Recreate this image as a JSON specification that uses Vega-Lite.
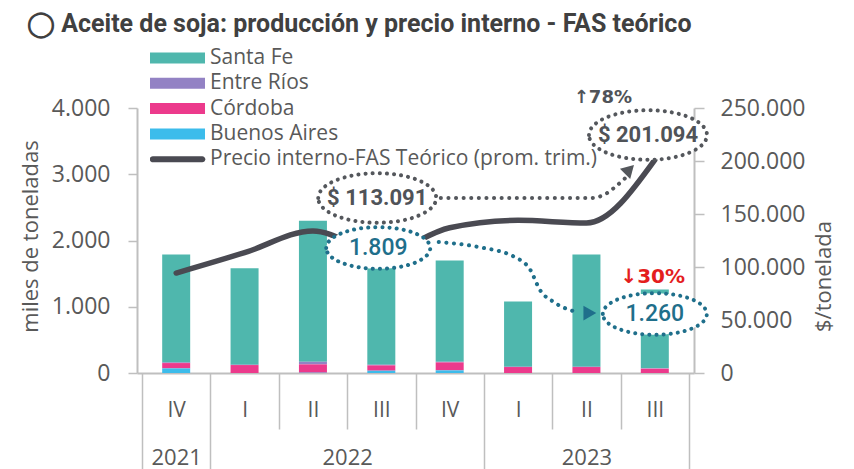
{
  "$schema": "https://vega.github.io/schema/vega-lite/v6.json",
  "width": 557,
  "height": 265,
  "autosize": {"type": "none"},
  "padding": {"left": 137, "top": 108, "right": 160, "bottom": 96},
  "background": "white",
  "config": {
    "locale": {"number": {"decimal": ",", "thousands": ".", "grouping": [3], "currency": ["$", ""]}},
    "view": {"stroke": null},
    "font": "Open Sans"
  },
  "title": {
    "text": "◯ Aceite de soja: producción y precio interno - FAS teórico",
    "anchor": "start",
    "frame": "group",
    "dx": -110,
    "offset": -9,
    "baseline": "alphabetic",
    "font": "Roboto",
    "fontSize": 25,
    "fontWeight": "bold",
    "color": "#404040"
  },
  "datasets": {
    "produccion": [
      {"n": 0, "periodo": "IV 2021", "provincia": "Santa Fe", "valor": 1630},
      {"n": 0, "periodo": "IV 2021", "provincia": "Entre Ríos", "valor": 10},
      {"n": 0, "periodo": "IV 2021", "provincia": "Córdoba", "valor": 80},
      {"n": 0, "periodo": "IV 2021", "provincia": "Buenos Aires", "valor": 70},
      {"n": 1, "periodo": "I 2022", "provincia": "Santa Fe", "valor": 1455},
      {"n": 1, "periodo": "I 2022", "provincia": "Entre Ríos", "valor": 5},
      {"n": 1, "periodo": "I 2022", "provincia": "Córdoba", "valor": 120},
      {"n": 1, "periodo": "I 2022", "provincia": "Buenos Aires", "valor": 0},
      {"n": 2, "periodo": "II 2022", "provincia": "Santa Fe", "valor": 2130},
      {"n": 2, "periodo": "II 2022", "provincia": "Entre Ríos", "valor": 40},
      {"n": 2, "periodo": "II 2022", "provincia": "Córdoba", "valor": 125},
      {"n": 2, "periodo": "II 2022", "provincia": "Buenos Aires", "valor": 5},
      {"n": 3, "periodo": "III 2022", "provincia": "Santa Fe", "valor": 1684},
      {"n": 3, "periodo": "III 2022", "provincia": "Entre Ríos", "valor": 10},
      {"n": 3, "periodo": "III 2022", "provincia": "Córdoba", "valor": 80},
      {"n": 3, "periodo": "III 2022", "provincia": "Buenos Aires", "valor": 35},
      {"n": 4, "periodo": "IV 2022", "provincia": "Santa Fe", "valor": 1530},
      {"n": 4, "periodo": "IV 2022", "provincia": "Entre Ríos", "valor": 10},
      {"n": 4, "periodo": "IV 2022", "provincia": "Córdoba", "valor": 120},
      {"n": 4, "periodo": "IV 2022", "provincia": "Buenos Aires", "valor": 40},
      {"n": 5, "periodo": "I 2023", "provincia": "Santa Fe", "valor": 985},
      {"n": 5, "periodo": "I 2023", "provincia": "Entre Ríos", "valor": 5},
      {"n": 5, "periodo": "I 2023", "provincia": "Córdoba", "valor": 90},
      {"n": 5, "periodo": "I 2023", "provincia": "Buenos Aires", "valor": 0},
      {"n": 6, "periodo": "II 2023", "provincia": "Santa Fe", "valor": 1695},
      {"n": 6, "periodo": "II 2023", "provincia": "Entre Ríos", "valor": 5},
      {"n": 6, "periodo": "II 2023", "provincia": "Córdoba", "valor": 90},
      {"n": 6, "periodo": "II 2023", "provincia": "Buenos Aires", "valor": 0},
      {"n": 7, "periodo": "III 2023", "provincia": "Santa Fe", "valor": 1190},
      {"n": 7, "periodo": "III 2023", "provincia": "Entre Ríos", "valor": 5},
      {"n": 7, "periodo": "III 2023", "provincia": "Córdoba", "valor": 65},
      {"n": 7, "periodo": "III 2023", "provincia": "Buenos Aires", "valor": 0}
    ],
    "precio": [
      {"n": 0, "periodo": "IV 2021", "valor": 94300},
      {"n": 1, "periodo": "I 2022", "valor": 113500},
      {"n": 2, "periodo": "II 2022", "valor": 134000},
      {"n": 3, "periodo": "III 2022", "valor": 113091},
      {"n": 4, "periodo": "IV 2022", "valor": 137000},
      {"n": 5, "periodo": "I 2023", "valor": 144000},
      {"n": 6, "periodo": "II 2023", "valor": 141500},
      {"n": 7, "periodo": "III 2023", "valor": 201094}
    ],
    "anot_precio": [
      {"n": 2.94, "valor": 165100, "etiqueta": "$ 113.091"},
      {"n": 6.9, "valor": 224500, "etiqueta": "$ 201.094"}
    ],
    "flecha_precio": [
      {"n": 3.87, "valor": 165100},
      {"n": 4.99, "valor": 165100},
      {"n": 6.07, "valor": 165100},
      {"n": 6.28, "valor": 168900},
      {"n": 6.42, "valor": 175500},
      {"n": 6.57, "valor": 184000}
    ],
    "punta_precio": [{"n": 6.63, "valor": 192000}],
    "var_precio": [{"n": 6.24, "valor": 259400, "etiqueta": "↑78%"}],
    "anot_vol": [
      {"n": 2.955, "valor": 1887, "etiqueta": "1.809"},
      {"n": 7.0, "valor": 891, "etiqueta": "1.260"}
    ],
    "flecha_vol": [
      {"n": 3.84, "valor": 1977},
      {"n": 4.42, "valor": 1902},
      {"n": 4.95, "valor": 1751},
      {"n": 5.18, "valor": 1555},
      {"n": 5.32, "valor": 1253},
      {"n": 5.52, "valor": 1072},
      {"n": 5.85, "valor": 921}
    ],
    "punta_vol": [{"n": 6.05, "valor": 905}],
    "var_vol": [{"n": 6.97, "valor": 1449, "etiqueta": "↓30%"}]
  },
  "layer": [
    {
      "data": {"name": "produccion"},
      "mark": {"type": "bar", "width": 28},
      "encoding": {
        "x": {
          "field": "n", "type": "quantitative",
          "scale": {"domain": [-0.5, 7.5], "nice": false, "zero": false},
          "axis": {
            "orient": "bottom",
            "title": null,
            "values": [0, 1, 1.5, 2, 2.5, 3, 3.5, 4, 5, 5.5, 6, 6.5, 7],
            "labelExpr": "datum.value % 1 === 0 ? ['IV','I','II','III','IV','I','II','III'][datum.value] : ''",
            "tickSize": 56,
            "tickOpacity": {"condition": {"test": "datum.value % 1 === 0", "value": 0}, "value": 1},
            "tickColor": "#BFBFBF",
            "tickWidth": 1.5,
            "domain": true,
            "domainColor": "#BFBFBF",
            "domainWidth": 2,
            "grid": false,
            "labelPadding": -30,
            "labelFont": "Open Sans",
            "labelFontSize": 21,
            "labelColor": "#595959",
            "labelOverlap": false,
            "labelFlush": false,
            "labelBound": false
          }
        },
        "y": {
          "field": "valor", "type": "quantitative", "stack": "zero",
          "scale": {"domain": [0, 4000], "nice": false},
          "axis": {
            "orient": "left",
            "title": "miles de toneladas",
            "values": [0, 1000, 2000, 3000, 4000],
            "format": ",d",
            "tickSize": 9,
            "tickColor": "#BFBFBF",
            "tickWidth": 1.5,
            "domainColor": "#BFBFBF",
            "domainWidth": 2,
            "grid": false,
            "labelPadding": 18,
            "labelFont": "Open Sans",
            "labelFontSize": 23,
            "labelColor": "#595959",
            "labelFlush": false,
            "titleFont": "Open Sans",
            "titleFontSize": 22,
            "titleFontWeight": "normal",
            "titleColor": "#595959",
            "titleAngle": 270,
            "titleX": -107,
            "titleY": 128,
            "titleBaseline": "middle",
            "titleAlign": "center"
          }
        },
        "color": {
          "field": "provincia", "type": "nominal",
          "scale": {
            "domain": ["Santa Fe", "Entre Ríos", "Córdoba", "Buenos Aires", "Precio interno-FAS Teórico (prom. trim.)"],
            "range": ["#4FB7AD", "#9382C4", "#EC3A8C", "#3CBCEB", "#4A4A52"]
          },
          "legend": {
            "orient": "none",
            "legendX": 13,
            "legendY": -60,
            "title": null,
            "padding": 0,
            "symbolType": "M -1 -0.2 H 1 V 0.2 H -1 Z",
            "symbolSize": 3025,
            "symbolStrokeWidth": 0,
            "symbolOpacity": 1,
            "clipHeight": 20,
            "rowPadding": 4.3,
            "labelOffset": 5,
            "labelLimit": 600,
            "labelFont": "Open Sans",
            "labelFontSize": 21,
            "labelColor": "#595959",
            "encode": {
              "symbols": {
                "update": {
                  "shape": [
                    {"test": "datum.value === 'Precio interno-FAS Teórico (prom. trim.)'", "value": "M -0.9 -0.11 A 0.11 0.11 0 0 0 -0.9 0.11 H 0.9 A 0.11 0.11 0 0 0 0.9 -0.11 Z"},
                    {"value": "M -1 -0.2 H 1 V 0.2 H -1 Z"}
                  ],
                  "fill": {"scale": "color", "field": "value"},
                  "strokeWidth": {"value": 0},
                  "opacity": {"value": 1}
                }
              }
            }
          }
        },
        "order": {"field": "provincia", "sort": "ascending"}
      }
    },
    {
      "layer": [
        {
          "data": {"name": "precio"},
          "mark": {"type": "line", "interpolate": "monotone", "strokeWidth": 5.5, "strokeCap": "round"},
          "encoding": {
            "x": {
              "field": "n", "type": "quantitative",
              "scale": {"domain": [-0.5, 7.5], "nice": false, "zero": false},
              "axis": {
                "orient": "bottom",
                "title": null,
                "values": [-0.5, 0, 0.5, 2.5, 4.5, 6, 7.5],
                "labelExpr": "datum.value === 0 ? '2021' : datum.value === 2.5 ? '2022' : datum.value === 6 ? '2023' : ''",
                "tickSize": 96,
                "tickOpacity": {"condition": {"test": "datum.value === 0 || datum.value === 2.5 || datum.value === 6", "value": 0}, "value": 1},
                "tickColor": "#BFBFBF",
                "tickWidth": 1.5,
                "domain": false,
                "grid": false,
                "labelPadding": -22,
                "labelFont": "Open Sans",
                "labelFontSize": 22,
                "labelColor": "#595959",
                "labelOverlap": false,
                "labelFlush": false,
                "labelBound": false
              }
            },
            "y": {
              "field": "valor", "type": "quantitative",
              "scale": {"domain": [0, 250000], "nice": false},
              "axis": {
                "orient": "right",
                "title": "$/tonelada",
                "values": [0, 50000, 100000, 150000, 200000, 250000],
                "format": ",d",
                "tickSize": 10,
                "tickColor": "#BFBFBF",
                "tickWidth": 1.5,
                "domainColor": "#BFBFBF",
                "domainWidth": 2,
                "grid": false,
                "labelPadding": 16,
                "labelFont": "Open Sans",
                "labelFontSize": 23,
                "labelColor": "#595959",
                "labelFlush": false,
                "titleFont": "Open Sans",
                "titleFontSize": 22,
                "titleFontWeight": "normal",
                "titleColor": "#595959",
                "titleAngle": 270,
                "titleX": 129,
                "titleY": 168,
                "titleBaseline": "middle",
                "titleAlign": "center"
              }
            },
            "color": {"datum": "Precio interno-FAS Teórico (prom. trim.)", "type": "nominal"}
          }
        },
        {
          "data": {"name": "flecha_precio"},
          "mark": {"type": "line", "interpolate": "monotone", "color": "#54575C", "strokeWidth": 4, "strokeDash": [0.1, 7.5], "strokeCap": "round"},
          "encoding": {
            "x": {"field": "n", "type": "quantitative", "scale": {"domain": [-0.5, 7.5], "nice": false, "zero": false}, "title": null},
            "y": {"field": "valor", "type": "quantitative", "scale": {"domain": [0, 250000], "nice": false}}
          }
        },
        {
          "data": {"name": "punta_precio"},
          "mark": {"type": "point", "shape": "triangle-up", "angle": 45, "size": 210, "filled": true, "color": "#54575C", "opacity": 1},
          "encoding": {
            "x": {"field": "n", "type": "quantitative", "scale": {"domain": [-0.5, 7.5], "nice": false, "zero": false}, "title": null},
            "y": {"field": "valor", "type": "quantitative", "scale": {"domain": [0, 250000], "nice": false}}
          }
        },
        {
          "data": {"name": "anot_precio"},
          "mark": {"type": "point", "shape": "M -1 0 A 1 0.42 0 1 1 1 0 A 1 0.42 0 1 1 -1 0 Z", "size": 13924, "filled": true, "fill": "white", "fillOpacity": 1, "opacity": 1, "stroke": "#54575C", "strokeWidth": 4, "strokeDash": [0.1, 7], "strokeCap": "round"},
          "encoding": {
            "x": {"field": "n", "type": "quantitative", "scale": {"domain": [-0.5, 7.5], "nice": false, "zero": false}, "title": null},
            "y": {"field": "valor", "type": "quantitative", "scale": {"domain": [0, 250000], "nice": false}}
          }
        },
        {
          "data": {"name": "anot_precio"},
          "mark": {"type": "text", "font": "Roboto", "fontSize": 22, "fontWeight": "bold", "color": "#505358", "align": "center", "baseline": "middle"},
          "encoding": {
            "x": {"field": "n", "type": "quantitative", "scale": {"domain": [-0.5, 7.5], "nice": false, "zero": false}, "title": null},
            "y": {"field": "valor", "type": "quantitative", "scale": {"domain": [0, 250000], "nice": false}},
            "text": {"field": "etiqueta"}
          }
        },
        {
          "data": {"name": "var_precio"},
          "mark": {"type": "text", "font": "DejaVu Sans", "fontSize": 18, "fontWeight": "bold", "color": "#505358", "align": "center", "baseline": "middle"},
          "encoding": {
            "x": {"field": "n", "type": "quantitative", "scale": {"domain": [-0.5, 7.5], "nice": false, "zero": false}, "title": null},
            "y": {"field": "valor", "type": "quantitative", "scale": {"domain": [0, 250000], "nice": false}},
            "text": {"field": "etiqueta"}
          }
        }
      ]
    },
    {
      "layer": [
        {
          "data": {"name": "flecha_vol"},
          "mark": {"type": "line", "interpolate": "monotone", "color": "#1F6F8B", "strokeWidth": 4, "strokeDash": [0.1, 7.5], "strokeCap": "round"},
          "encoding": {
            "x": {"field": "n", "type": "quantitative", "scale": {"domain": [-0.5, 7.5], "nice": false, "zero": false}, "axis": null},
            "y": {"field": "valor", "type": "quantitative", "scale": {"domain": [0, 4000], "nice": false}, "axis": null}
          }
        },
        {
          "data": {"name": "punta_vol"},
          "mark": {"type": "point", "shape": "triangle-right", "size": 220, "filled": true, "color": "#1F6F8B", "opacity": 1},
          "encoding": {
            "x": {"field": "n", "type": "quantitative", "scale": {"domain": [-0.5, 7.5], "nice": false, "zero": false}, "axis": null},
            "y": {"field": "valor", "type": "quantitative", "scale": {"domain": [0, 4000], "nice": false}, "axis": null}
          }
        },
        {
          "data": {"name": "anot_vol"},
          "mark": {"type": "point", "shape": "M -1 0 A 1 0.4 0 1 1 1 0 A 1 0.4 0 1 1 -1 0 Z", "size": 10816, "filled": true, "fill": "white", "fillOpacity": 1, "opacity": 1, "stroke": "#1F6F8B", "strokeWidth": 4, "strokeDash": [0.1, 7], "strokeCap": "round"},
          "encoding": {
            "x": {"field": "n", "type": "quantitative", "scale": {"domain": [-0.5, 7.5], "nice": false, "zero": false}, "axis": null},
            "y": {"field": "valor", "type": "quantitative", "scale": {"domain": [0, 4000], "nice": false}, "axis": null}
          }
        },
        {
          "data": {"name": "anot_vol"},
          "mark": {"type": "text", "font": "Roboto", "fontSize": 23, "fontWeight": 500, "color": "#1F6F8B", "align": "center", "baseline": "middle"},
          "encoding": {
            "x": {"field": "n", "type": "quantitative", "scale": {"domain": [-0.5, 7.5], "nice": false, "zero": false}, "axis": null},
            "y": {"field": "valor", "type": "quantitative", "scale": {"domain": [0, 4000], "nice": false}, "axis": null},
            "text": {"field": "etiqueta"}
          }
        },
        {
          "data": {"name": "var_vol"},
          "mark": {"type": "text", "font": "DejaVu Sans", "fontSize": 20, "fontWeight": "bold", "color": "#E41E1E", "align": "center", "baseline": "middle"},
          "encoding": {
            "x": {"field": "n", "type": "quantitative", "scale": {"domain": [-0.5, 7.5], "nice": false, "zero": false}, "axis": null},
            "y": {"field": "valor", "type": "quantitative", "scale": {"domain": [0, 4000], "nice": false}, "axis": null},
            "text": {"field": "etiqueta"}
          }
        }
      ]
    }
  ],
  "resolve": {"scale": {"y": "independent"}, "axis": {"x": "independent", "y": "independent"}}
}
